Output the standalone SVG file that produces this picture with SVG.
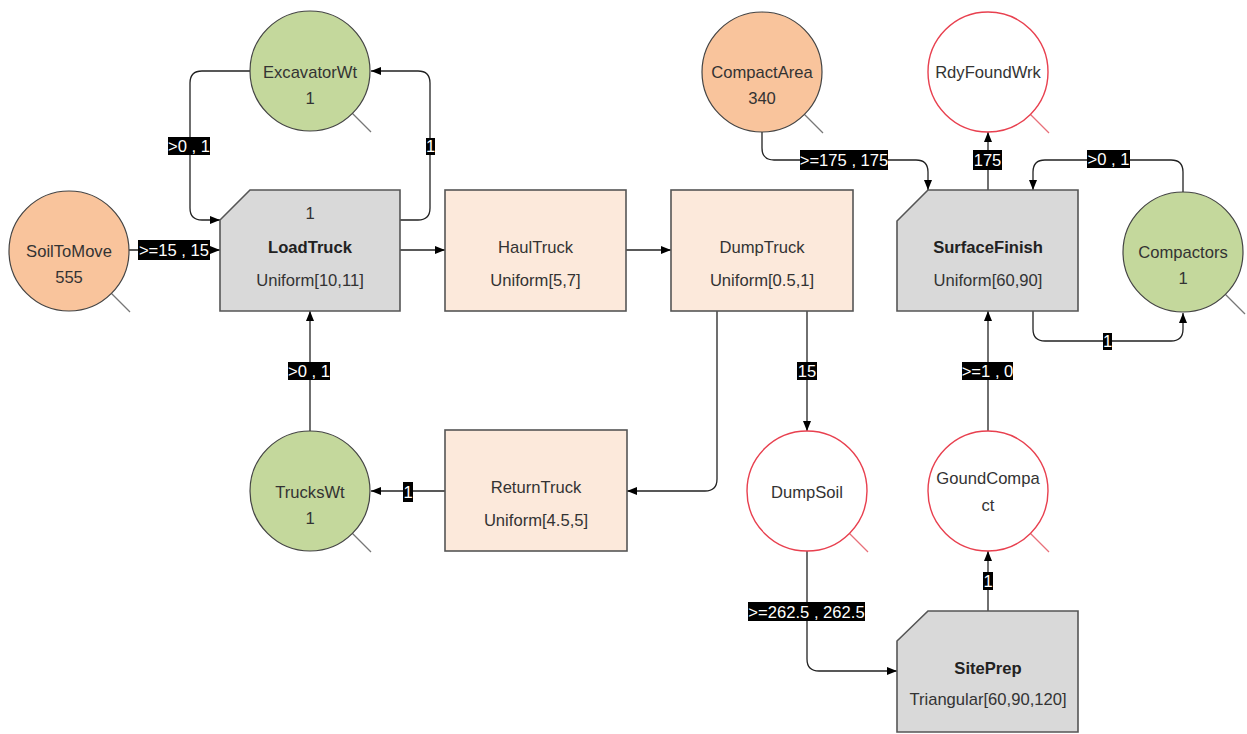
<svg xmlns="http://www.w3.org/2000/svg" width="1247" height="734" viewBox="0 0 1247 734">
<style>
text{font-family:"Liberation Sans",Arial,sans-serif;font-size:16.6px;fill:#333;text-anchor:middle}
.b{font-weight:bold;fill:#222}
.orange{fill:#F9C49C;stroke:#444;stroke-width:1.2}
.green{fill:#C4D89C;stroke:#444;stroke-width:1.2}
.red{fill:#fff;stroke:#E8404F;stroke-width:1.4}
.tail{stroke:#777;stroke-width:1.2}
.redtail{stroke:#E8707A;stroke-width:1.2}
.gray{fill:#D9D9D9;stroke:#555;stroke-width:1.6}
.peach{fill:#FCE9DB;stroke:#555;stroke-width:1.6}
.edge{fill:none;stroke:#222;stroke-width:1.3;marker-end:url(#arr)}
.lbl{fill:#000}
.lt{fill:#fff;font-size:16.6px}
</style>
<defs>
<marker id="arr" markerUnits="userSpaceOnUse" markerWidth="10" markerHeight="10" viewBox="0 0 10 10" refX="10" refY="5" orient="auto">
<path d="M0,1 L10,5 L0,9 Z" fill="#000"/>
</marker>
</defs>
<rect width="1247" height="734" fill="#fff"/>

<g id="connectors">
<path class="edge" d="M250,71 H202 Q190,71 190,83 V208 Q190,220 202,220 H220"/>
<path class="edge" d="M400,220 H418 Q430,220 430,208 V83 Q430,71 418,71 H371"/>
<path class="edge" d="M129,250 H220"/>
<path class="edge" d="M400,250 H445"/>
<path class="edge" d="M626,250 H671"/>
<path class="edge" d="M717,311 V479 Q717,491 705,491 H627"/>
<path class="edge" d="M445,491 H371"/>
<path class="edge" d="M310,431 V311"/>
<path class="edge" d="M807,311 V431"/>
<path class="edge" d="M807,551 V659 Q807,671 819,671 H897"/>
<path class="edge" d="M988,611 V551"/>
<path class="edge" d="M988,431 V311"/>
<path class="edge" d="M762,132 V148 Q762,160 774,160 H916 Q928,160 928,172 V190"/>
<path class="edge" d="M988,190 V132"/>
<path class="edge" d="M1183,192 V172 Q1183,160 1171,160 H1045 Q1033,160 1033,172 V190"/>
<path class="edge" d="M1033,311 V329 Q1033,341 1045,341 H1171 Q1183,341 1183,329 V313"/>

<rect class="lbl" x="168" y="137" width="42" height="18"/><text class="lt" x="189" y="152">&gt;0 , 1</text>
<rect class="lbl" x="426" y="138" width="9" height="17"/><text class="lt" x="430.5" y="152">1</text>
<rect class="lbl" x="138" y="240" width="72" height="20"/><text class="lt" x="174" y="256">&gt;=15 , 15</text>
<rect class="lbl" x="288" y="362" width="42" height="18"/><text class="lt" x="309" y="377">&gt;0 , 1</text>
<rect class="lbl" x="403" y="482" width="10" height="20"/><text class="lt" x="408" y="498">1</text>
<rect class="lbl" x="797" y="362" width="20" height="18"/><text class="lt" x="807" y="377">15</text>
<rect class="lbl" x="748" y="602" width="117" height="19"/><text class="lt" x="806.5" y="618">&gt;=262.5 , 262.5</text>
<rect class="lbl" x="983" y="572" width="10" height="18"/><text class="lt" x="988" y="587">1</text>
<rect class="lbl" x="962" y="362" width="51" height="18"/><text class="lt" x="987.5" y="377">&gt;=1 , 0</text>
<rect class="lbl" x="800" y="150" width="88" height="20"/><text class="lt" x="844" y="166">&gt;=175 , 175</text>
<rect class="lbl" x="973" y="150" width="29" height="20"/><text class="lt" x="987.5" y="166">175</text>
<rect class="lbl" x="1087" y="150" width="43" height="18"/><text class="lt" x="1108.5" y="165">&gt;0 , 1</text>
<rect class="lbl" x="1103" y="333" width="9" height="17"/><text class="lt" x="1107.5" y="347">1</text>
</g>

<g id="SoilToMove">
<line class="tail" x1="111" y1="293" x2="130" y2="312"/>
<circle class="orange" cx="69" cy="251" r="60"/>
<text x="69" y="257">SoilToMove</text><text x="69" y="283">555</text>
</g>
<g id="ExcavatorWt">
<line class="tail" x1="352" y1="113" x2="371" y2="132"/>
<circle class="green" cx="310" cy="71" r="60"/>
<text x="310" y="78">ExcavatorWt</text><text x="310" y="104">1</text>
</g>
<g id="TrucksWt">
<line class="tail" x1="352" y1="533" x2="371" y2="552"/>
<circle class="green" cx="310" cy="491" r="60"/>
<text x="310" y="498">TrucksWt</text><text x="310" y="524">1</text>
</g>
<g id="CompactArea">
<line class="tail" x1="804" y1="114" x2="823" y2="133"/>
<circle class="orange" cx="762" cy="72" r="60"/>
<text x="762" y="78">CompactArea</text><text x="762" y="104">340</text>
</g>
<g id="RdyFoundWrk">
<line class="redtail" x1="1030" y1="114" x2="1049" y2="133"/>
<circle class="red" cx="988" cy="72" r="60"/>
<text x="988" y="78">RdyFoundWrk</text>
</g>
<g id="Compactors">
<line class="tail" x1="1225" y1="294" x2="1245" y2="314"/>
<circle class="green" cx="1183" cy="252" r="60"/>
<text x="1183" y="258">Compactors</text><text x="1183" y="284">1</text>
</g>
<g id="DumpSoil">
<line class="redtail" x1="849" y1="533" x2="868" y2="552"/>
<circle class="red" cx="807" cy="491" r="60"/>
<text x="807" y="498">DumpSoil</text>
</g>
<g id="GoundCompact">
<line class="redtail" x1="1030" y1="533" x2="1049" y2="552"/>
<circle class="red" cx="988" cy="491" r="60"/>
<text x="988" y="484">GoundCompa</text><text x="988" y="511">ct</text>
</g>

<g id="LoadTruck">
<path class="gray" d="M250,190 H400 V311 H220 V220 Z"/>
<text x="310" y="219">1</text>
<text class="b" x="310" y="253">LoadTruck</text>
<text x="310" y="286">Uniform[10,11]</text>
</g>
<g id="HaulTruck">
<rect class="peach" x="445" y="190" width="181" height="121"/>
<text x="535.5" y="253">HaulTruck</text>
<text x="535.5" y="286">Uniform[5,7]</text>
</g>
<g id="DumpTruck">
<rect class="peach" x="671" y="190" width="182" height="121"/>
<text x="762" y="253">DumpTruck</text>
<text x="762" y="286">Uniform[0.5,1]</text>
</g>
<g id="ReturnTruck">
<rect class="peach" x="445" y="430" width="182" height="121"/>
<text x="536" y="493">ReturnTruck</text>
<text x="536" y="526">Uniform[4.5,5]</text>
</g>
<g id="SurfaceFinish">
<path class="gray" d="M928,190 H1078 V311 H897 V221 Z"/>
<text class="b" x="988" y="253">SurfaceFinish</text>
<text x="988" y="286">Uniform[60,90]</text>
</g>
<g id="SitePrep">
<path class="gray" d="M928,611 H1078 V732 H897 V641 Z"/>
<text class="b" x="988" y="674">SitePrep</text>
<text x="988" y="705">Triangular[60,90,120]</text>
</g>
</svg>
